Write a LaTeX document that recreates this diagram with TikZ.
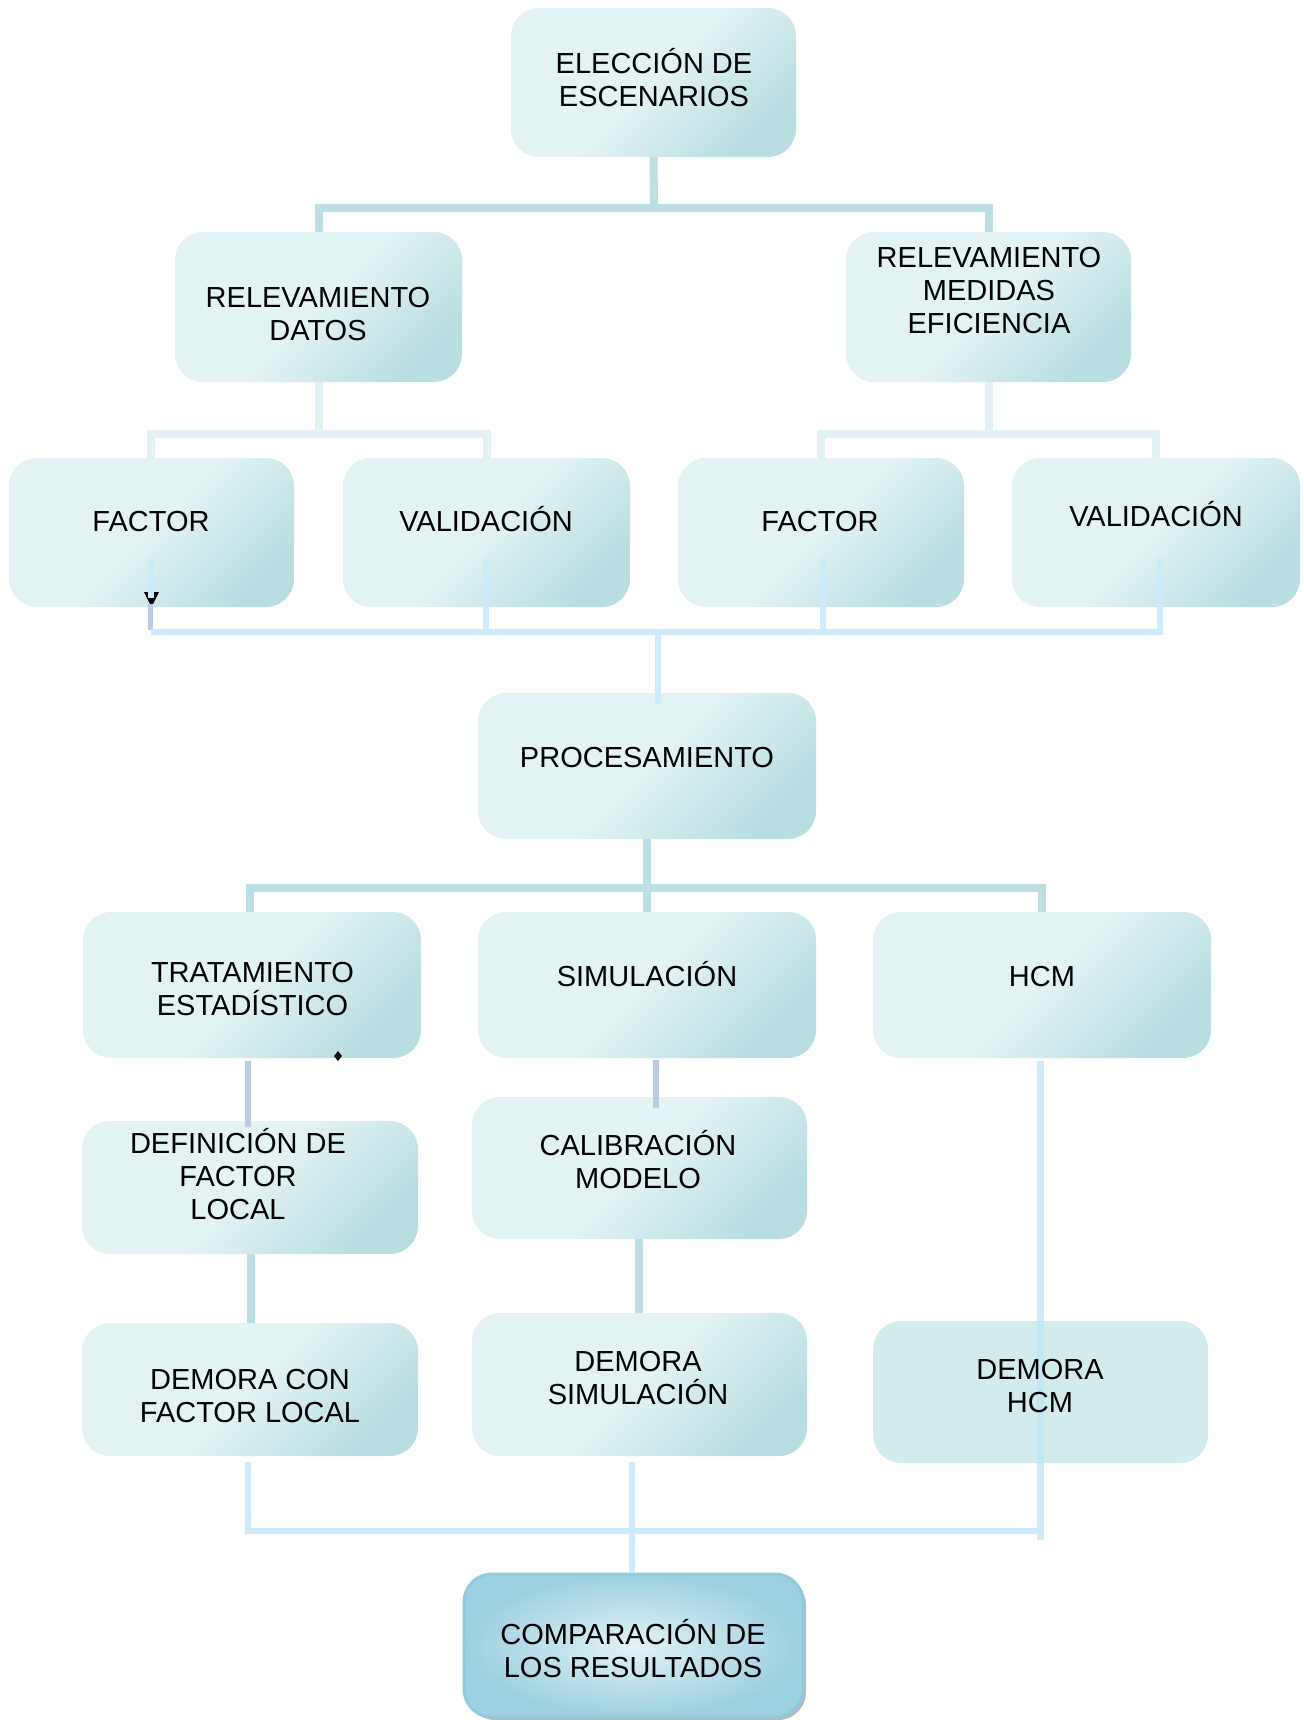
\documentclass[tikz,border=0pt]{standalone}
\usepackage{fontspec}
\setmainfont{Liberation Sans}
\usetikzlibrary{shadows}
\definecolor{boxlight}{HTML}{E3F2F3}
\definecolor{boxdark}{HTML}{B9DEE2}
\definecolor{teal}{HTML}{BCDFE3}
\definecolor{pale}{HTML}{E2F1F3}
\definecolor{sky}{HTML}{CDEBFA}
\definecolor{skydeep}{HTML}{C0E6F9}
\definecolor{greyblue}{HTML}{B9CCE3}
\definecolor{flatbox}{HTML}{D3EBED}
\definecolor{cmpin}{HTML}{E2F2F6}
\definecolor{cmpout}{HTML}{9DD0E0}
\definecolor{cmpline}{HTML}{8FCADB}
\begin{document}
\begin{tikzpicture}[x=1pt,y=-1pt,
  box/.style={rounded corners=28pt, inner sep=0pt, draw=none,
    top color=boxlight, bottom color=boxdark, middle color=boxlight, shading angle=45},
  flat/.style={rounded corners=28pt, inner sep=0pt, draw=none, fill=flatbox},
  final/.style={rounded corners=28pt, inner sep=0pt, draw=cmpline, line width=3pt,
    shading=radial, inner color=cmpin, outer color=cmpout,
    drop shadow={shadow xshift=3pt, shadow yshift=-3pt, fill=black!35, opacity=.8}},
  lbl/.style={align=center, anchor=base, inner sep=0pt, font=\fontsize{29}{33}\selectfont},
  cteal/.style={draw=teal, line width=8pt},
  cpale/.style={draw=pale, line width=8pt},
  csky/.style={draw=sky, line width=6pt},
  cgrey/.style={draw=greyblue, line width=6pt},
]
\useasboundingbox (0,0) rectangle (1303,1720);

% boxes
\node[box, minimum width=285pt, minimum height=149pt] (E) at (653.5,82.5) {};
\node[box, minimum width=287pt, minimum height=150pt] (RD) at (318.5,307) {};
\node[box, minimum width=285pt, minimum height=150pt] (RM) at (988.5,307) {};
\node[box, minimum width=285pt, minimum height=149pt] (F1) at (151.5,532.5) {};
\node[box, minimum width=287pt, minimum height=149pt] (V1) at (486.5,532.5) {};
\node[box, minimum width=286pt, minimum height=149pt] (F2) at (821,532.5) {};
\node[box, minimum width=288pt, minimum height=149pt] (V2) at (1156,532.5) {};
\node[box, minimum width=338pt, minimum height=146pt] (P) at (647,766) {};
\node[box, minimum width=338pt, minimum height=146pt] (T) at (252,985) {};
\node[box, minimum width=338pt, minimum height=146pt] (S) at (647,985) {};
\node[box, minimum width=338pt, minimum height=146pt] (H) at (1042,985) {};
\node[box, minimum width=336pt, minimum height=133pt] (DEF) at (250,1187.5) {};
\node[box, minimum width=335pt, minimum height=142pt] (CAL) at (639.5,1168) {};
\node[box, minimum width=336pt, minimum height=133pt] (DCF) at (250,1389.5) {};
\node[box, minimum width=335pt, minimum height=143pt] (DS) at (639.5,1384.5) {};
\node[flat, minimum width=335pt, minimum height=142pt] (DH) at (1040.5,1392) {};
\node[final, minimum width=339pt, minimum height=143pt] (C) at (633.5,1645.5) {};

% junction coordinates
\coordinate (jA) at (654,208);
\coordinate (jB) at (318.5,434);
\coordinate (jC) at (988.5,434);
\coordinate (jD) at (658,632);
\coordinate (f1s) at (151,559);
\coordinate (v1s) at (486,559);
\coordinate (f2s) at (823,559);
\coordinate (v2s) at (1160,558);
\coordinate (jE) at (647,888);
\coordinate (tS) at (248,1061);
\coordinate (defE) at (248,1127);
\coordinate (sS) at (656,1060);
\coordinate (calE) at (656,1108);
\coordinate (hS) at (1040,1061);
\coordinate (hE) at (1040,1540);
\coordinate (dcfS) at (248,1462);
\coordinate (dsS) at (632,1462);
\coordinate (jF) at (632,1531);

% connectors
\draw[cteal] (E.south) -- (jA);
\draw[cteal] (RD.north) |- (jA) -| (RM.north);
\draw[cpale] (RD.south) -- (jB);
\draw[cpale] (F1.north -| f1s) |- (jB) -| (V1.north);
\draw[cpale] (RM.south) -- (jC);
\draw[cpale] (F2.north) |- (jC) -| (V2.north);

% small black marks
\fill[black] (144,592) -- (159,592) -- (151.5,607) -- cycle;
\draw[cgrey, line width=5pt] (150,604) -- (150,630);
\draw[csky] (f1s) -- (151,598);
\draw[csky] (151,632) -| (v1s);
\draw[csky] (jD) -| (f2s);
\draw[csky] (jD) -| (v2s);
\draw[csky] (151,632) -- (jD);
\draw[csky] (jD) -- (658,704);
\fill[black] (338,1051) -- (342,1056) -- (338,1061) -- (334,1056) -- cycle;

\draw[cteal] (P.south) -- (S.north);
\draw[cteal] (T.north -| 250,0) |- (jE) -| (H.north);
\draw[cgrey] (tS) -- (defE);
\draw[cgrey] (sS) -- (calE);
\draw[cteal] (DEF.south -| 251,0) -- (DCF.north -| 251,0);
\draw[cteal] (CAL.south -| 639,0) -- (DS.north -| 639,0);
\draw[draw=skydeep, line width=7pt, opacity=.8] (hS) -- (hE);
\draw[csky] (dcfS) |- (jF) -- (1037,1531);
\draw[csky] (dsS) -- (C.north -| dsS);

% labels (anchor = baseline of the last line)
\node[lbl] (tE) at (654,107) {ELECCIÓN DE\\ESCENARIOS};
\node[lbl] (tRD) at (318,340.5) {RELEVAMIENTO\\DATOS};
\node[lbl] (tRM) at (989,333) {RELEVAMIENTO\\MEDIDAS\\EFICIENCIA};
\node[lbl] (tF1) at (151,531) {FACTOR};
\node[lbl] (tV1) at (486,531) {VALIDACIÓN};
\node[lbl] (tF2) at (820,531) {FACTOR};
\node[lbl] (tV2) at (1156,526) {VALIDACIÓN};
\node[lbl] (tP) at (647,767) {PROCESAMIENTO};
\node[lbl] (tT) at (252.5,1015) {TRATAMIENTO\\ESTADÍSTICO};
\node[lbl] (tS2) at (647,986.5) {SIMULACIÓN};
\node[lbl] (tH) at (1042,986.5) {HCM};
\node[lbl] (tDEF) at (238,1219) {DEFINICIÓN DE\\FACTOR\\LOCAL};
\node[lbl] (tCAL) at (638,1188.5) {CALIBRACIÓN\\MODELO};
\node[lbl] (tDCF) at (250,1422) {DEMORA CON\\FACTOR LOCAL};
\node[lbl] (tDS) at (638,1404.5) {DEMORA\\SIMULACIÓN};
\node[lbl] (tDH) at (1040,1412) {DEMORA\\HCM};
\node[lbl] (tC) at (633,1677) {COMPARACIÓN DE\\LOS RESULTADOS};
\end{tikzpicture}
\end{document}
